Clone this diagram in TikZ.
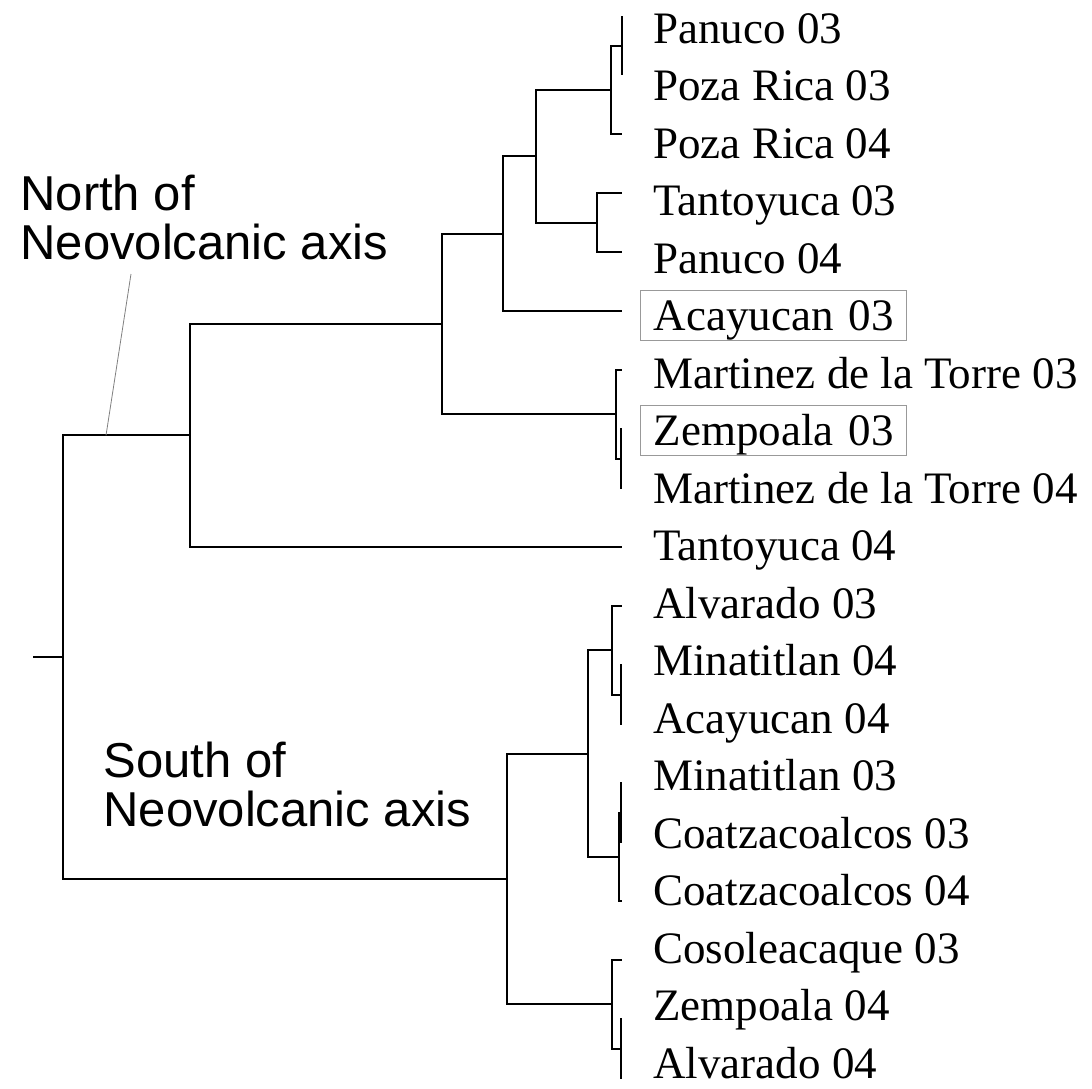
\documentclass[tikz,border=0pt]{standalone}
\usepackage{fontspec}
\setmainfont{Liberation Serif}
\newfontfamily\axisfont{Liberation Sans}
\usetikzlibrary{positioning}

\tikzset{
  branch/.style={line width=1pt},
  leader/.style={line width=0.4pt, draw=gray},
  leaf/.style={anchor=base west, inner xsep=6.5pt, inner ysep=0pt, font=\fontsize{22.5}{27}\selectfont},
  boxed/.style={leaf, draw=gray!80, line width=0.6pt, text width=120pt, align=left, inner ysep=2pt, text height=18pt, text depth=3pt},
  region/.style={align=left, anchor=north west, inner sep=0pt, font=\axisfont\fontsize{24.5}{24.5}\selectfont}
}

\begin{document}
\begin{tikzpicture}[x=0.5pt, y=-0.5pt]
    \useasboundingbox (0,0) rectangle (1092,1088);
    \foreach \i in {0,...,18}
        \coordinate (l\i) at (622, {16+59*\i});
    \foreach \i/\name/\sty in {0/Panuco 03/leaf, 1/Poza Rica 03/leaf, 2/Poza Rica 04/leaf,
        3/Tantoyuca 03/leaf, 4/Panuco 04/leaf, 5/Acayucan 03/boxed,
        6/Martinez de la Torre 03/leaf, 7/Zempoala 03/boxed, 8/Martinez de la Torre 04/leaf,
        9/Tantoyuca 04/leaf, 10/Alvarado 03/leaf, 11/Minatitlan 04/leaf, 12/Acayucan 04/leaf,
        13/Minatitlan 03/leaf, 14/Coatzacoalcos 03/leaf, 15/Coatzacoalcos 04/leaf,
        16/Cosoleacaque 03/leaf, 17/Zempoala 04/leaf, 18/Alvarado 04/leaf}
        \node[\sty] (t\i) at (640, {43+57.5*\i}) {\name};
    \coordinate (a) at (622, 45.5);
    \coordinate (b) at (611, 89.75);
    \coordinate (c) at (597, 222.5);
    \coordinate (d) at (536, 156.1);
    \coordinate (e) at (503, 233.6);
    \coordinate (f) at (621, 458.5);
    \coordinate (g) at (616, 414.25);
    \coordinate (h) at (442, 323.9);
    \coordinate (k) at (190, 435.45);
    \coordinate (m) at (621, 694.5);
    \coordinate (n) at (612, 650.25);
    \coordinate (p) at (621, 812.5);
    \coordinate (q) at (619, 856.75);
    \coordinate (r) at (588, 753.5);
    \coordinate (s) at (621, 1048.5);
    \coordinate (u) at (612, 1004.25);
    \coordinate (v) at (507, 878.9);
    \coordinate (root) at (63, 657.2);
    \coordinate (stub) at (33, 657.2);
    \foreach \p/\c in {a/l0, a/l1, b/a, b/l2, c/l3, c/l4, d/b, d/c, e/d, e/l5,
        f/l7, f/l8, g/l6, g/f, h/e, h/g, k/h, k/l9,
        m/l11, m/l12, n/l10, n/m, p/l13, p/l14, q/p, q/l15, r/n, r/q,
        s/l17, s/l18, u/l16, u/s, v/r, v/u, root/k, root/v}
        \draw[branch] (\p) |- (\c);
    \draw[branch] (stub) -- (root);
    \node[region] (north) at (20,175) {North of\\Neovolcanic axis};
    \node[region] (south) at (103,742) {South of\\Neovolcanic axis};
    \coordinate (lead) at (131,274);
    \coordinate (leadfoot) at (106,435.45);
    \draw[leader] (lead) -- (leadfoot);
\end{tikzpicture}
\end{document}
